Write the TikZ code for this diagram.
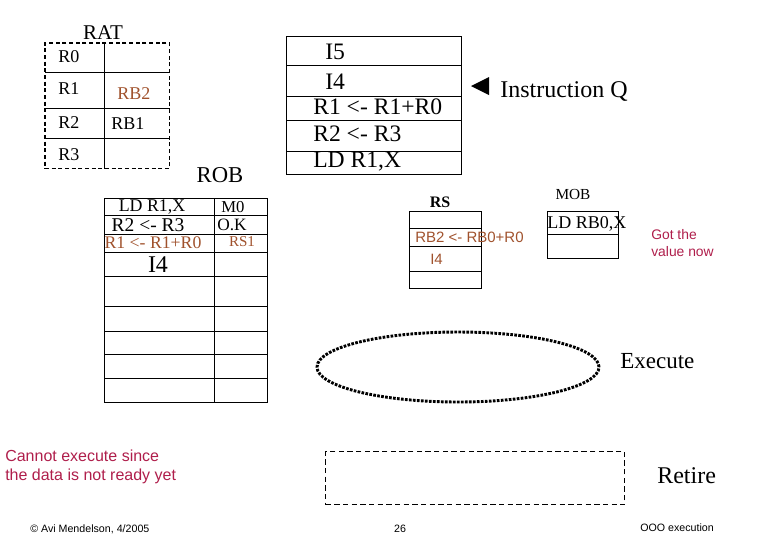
\documentclass[tikz,border=0pt]{standalone}
\usepackage{fontspec}
\setmainfont{Liberation Serif}
\setsansfont{Liberation Sans}
\usetikzlibrary{shapes,arrows.meta,positioning,calc,fit}
\usepackage{xcolor}
\definecolor{regbrown}{RGB}{160,82,45}
\definecolor{notered}{RGB}{175,30,75}
\newcommand{\fsz}[2]{\fontsize{#1pt}{#2pt}\selectfont}
\tikzset{
  cell/.style={draw,line width=1pt,anchor=north west,inner sep=0pt},
  ratcell/.style={anchor=north west,inner sep=0pt},
  dashframe/.style={draw,line width=1pt,dash pattern=on 3pt off 2pt,inner sep=0pt},
  lbl/.style={inner sep=0pt},
  brownlbl/.style={inner sep=0pt,text=regbrown},
  note/.style={inner sep=0pt,font=\sffamily\fsz{12}{14.25},text=notered,align=left},
  foot/.style={inner sep=0pt,font=\sffamily\fsz{8}{9.6}},
  exec/.style={draw,ellipse,line width=2.2pt,dash pattern=on 2pt off 1pt,minimum width=211.5pt,minimum height=52.5pt}
}
\begin{document}
\begin{tikzpicture}[x=0.75pt,y=-0.75pt]
\useasboundingbox (0,0) rectangle (780,540);
% RAT
\foreach \t/\b [count=\i] in {43/72,72/108,108/138,138/168}{
  \node[ratcell,minimum width=44.25pt,minimum height={(\b-\t)*0.75pt}] (ratl\i) at (45,\t) {};
  \node[ratcell,minimum width=48.75pt,minimum height={(\b-\t)*0.75pt}] (ratr\i) at (104,\t) {};
}
\node[dashframe,fit=(ratl1)(ratr4)] (rat) {};
\draw[line width=1pt] (ratl1.north east) -- (ratl4.south east);
\foreach \i in {1,2,3} \draw[line width=1pt] (ratl\i.south west) -- (ratr\i.south east);
\node[lbl,font=\fsz{15.75}{18}] (ratname) at (103,33) {RAT};
\node[lbl,anchor=west,font=\fsz{13.5}{16}] (r0) at (58,57) {R0};
\node[lbl,anchor=west,font=\fsz{13.5}{16}] (r1) at (58,89) {R1};
\node[lbl,anchor=west,font=\fsz{13.5}{16}] (r2) at (58,123) {R2};
\node[lbl,anchor=west,font=\fsz{13.5}{16}] (r3) at (58,155) {R3};
\node[brownlbl,anchor=west,font=\fsz{13.5}{16}] (rb2) at (117,94) {RB2};
\node[lbl,anchor=west,font=\fsz{13.5}{16}] (rb1) at (111,124) {RB1};
% Instruction queue
\foreach \t/\b [count=\i] in {36/65,65/96,96/120,120/151,151/174}
  \node[cell,minimum width=131.25pt,minimum height={(\b-\t)*0.75pt}] (iq\i) at (286,\t) {};
\node[lbl,anchor=west,font=\fsz{17.7}{20}] (iqa) at (325,52) {I5};
\node[lbl,anchor=west,font=\fsz{17.7}{20}] (iqb) at (325,82) {I4};
\node[lbl,anchor=west,font=\fsz{17.7}{20}] (iqc) at (313,107) {R1 <- R1+R0};
\node[lbl,anchor=west,font=\fsz{17.7}{20}] (iqd) at (313,134) {R2 <- R3};
\node[lbl,anchor=west,font=\fsz{17.7}{20}] (iqe) at (313,162) {LD R1,X};
\node[lbl,anchor=west,font=\fsz{18}{20}] (iqname) at (500,91) {Instruction Q};
\fill ($(iqname.west)+(-29,-5)$) -- ($(iqname.west)+(-11,-14)$) -- ($(iqname.west)+(-11,4)$) -- cycle;
% ROB
\foreach \t/\b [count=\i] in {198/215,215/234,234/252,252/276,276/306,306/331,331/354,354/378,378/402}{
  \node[cell,minimum width=82.5pt,minimum height={(\b-\t)*0.75pt}] (robl\i) at (104,\t) {};
  \node[cell,minimum width=39.75pt,minimum height={(\b-\t)*0.75pt}] (robr\i) at (214,\t) {};
}
\node[lbl,font=\fsz{17}{20}] (robname) at (220,175) {ROB};
\node[lbl,font=\fsz{13.4}{16}] (roba) at (152,207) {LD R1,X};
\node[lbl,font=\fsz{14.6}{17}] (robb) at (148,225) {R2 <- R3};
\node[brownlbl,font=\fsz{13.3}{16}] (robc) at (153,243) {R1 <- R1+R0};
\node[lbl,font=\fsz{18}{20}] (robd) at (158,265) {I4};
\node[lbl,font=\fsz{12.5}{15}] (robm) at (233,207) {M0};
\node[lbl,font=\fsz{13}{15}] (robk) at (232,225) {O.K};
\node[brownlbl,font=\fsz{11.3}{14}] (robs) at (242,242) {RS1};
% RS
\foreach \t/\b [count=\i] in {211/228,228/246,246/271,271/288}
  \node[cell,minimum width=54pt,minimum height={(\b-\t)*0.75pt}] (rs\i) at (409,\t) {};
\node[lbl,font=\bfseries\fsz{12}{14}] (rsname) at (440,202) {RS};
\node[brownlbl,anchor=west,font=\sffamily\fsz{11.25}{13}] (rsa) at (415,237) {RB2 <- RB0+R0};
\node[brownlbl,anchor=west,font=\sffamily\fsz{11.25}{13}] (rsb) at (430,259) {I4};
% MOB
\foreach \t/\b [count=\i] in {211/234,234/258}
  \node[cell,minimum width=53.25pt,minimum height={(\b-\t)*0.75pt}] (mob\i) at (547,\t) {};
\node[lbl,font=\fsz{11.5}{14}] (mobname) at (573,194) {MOB};
\node[lbl,anchor=west,font=\fsz{13.5}{16}] (moba) at (547,224) {LD RB0,X};
\node[note,anchor=west,font=\sffamily\fsz{10.4}{12.75}] (gotval) at (651,243) {Got the\\value now};
% Execute and retire
\node[exec] (exe) at (458,367) {};
\node[lbl,anchor=west,font=\fsz{17.25}{20}] (exename) at (620,361) {Execute};
\node[dashframe,dash pattern=on 4pt off 2.5pt,anchor=north west,minimum width=224.25pt,minimum height=39.75pt] (ret) at (325,451) {};
\node[lbl,anchor=west,font=\fsz{18}{20}] (retname) at (657,476) {Retire};
\node[note,anchor=west] (cannot) at (5,467) {Cannot execute since\\the data is not ready yet};
% footer
\node[foot,anchor=west] (author) at (30,529) {\textcopyright{} Avi Mendelson, 4/2005};
\node[foot] (page) at (400,529) {26};
\node[foot,anchor=west] (title) at (640,528) {OOO execution};
\end{tikzpicture}
\end{document}
